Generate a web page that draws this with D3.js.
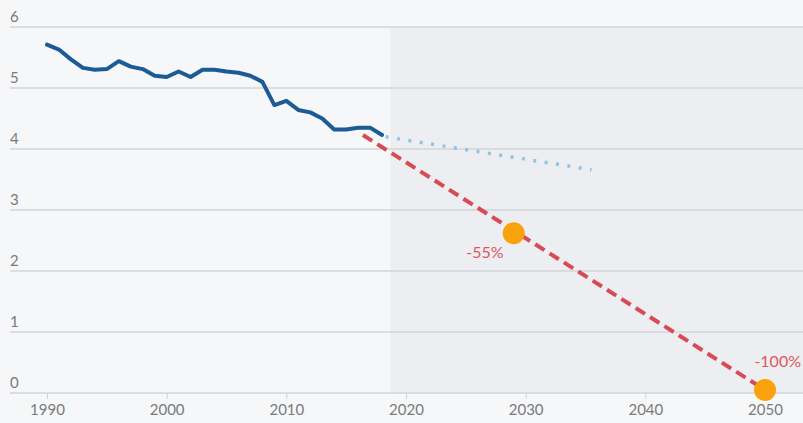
<!DOCTYPE html>
<html>
<head>
<meta charset="utf-8">
<script src="https://cdn.jsdelivr.net/npm/d3@7"></script>
<style>
  html, body { margin: 0; padding: 0; background: #f6f7f9; }
  svg { display: block; font-family: Lato, "Open Sans", sans-serif; }
</style>
</head>
<body>
<div id="chart"></div>
<script>
// 历史排放 (1990-2018)
const years = [1990, 1991, 1992, 1993, 1994, 1995, 1996, 1997, 1998, 1999,
  2000, 2001, 2002, 2003, 2004, 2005, 2006, 2007, 2008, 2009,
  2010, 2011, 2012, 2013, 2014, 2015, 2016, 2017, 2018];
const values = [5.71, 5.63, 5.47, 5.33, 5.30, 5.31, 5.44, 5.35, 5.31, 5.20,
  5.18, 5.27, 5.18, 5.30, 5.30, 5.27, 5.25, 5.20, 5.10, 4.72,
  4.79, 4.64, 4.60, 4.50, 4.32, 4.32, 4.35, 4.35, 4.23];

// 趋势延伸 (点线)
const trendYears = [2018.3, 2035.5];
const trendValues = [4.2, 3.66];

// 目标路径 (虚线)
const targetYears = [2016.4, 2050];
const targetValues = [4.23, 0.05];

// 目标点
const markerYears = [2029, 2050];
const markerValues = [2.62, 0.05];
const markerLabels = ["-55%", "-100%"];

const xTicks = [1990, 2000, 2010, 2020, 2030, 2040, 2050];
const yTicks = [0, 1, 2, 3, 4, 5, 6];
const shadeStart = 2018.7;

const width = 803, height = 423;

const svg = d3.select("#chart").append("svg")
    .attr("width", width)
    .attr("height", height);

const x = d3.scaleLinear().domain([1990, 2050]).range([47, 765]);
const y = d3.scaleLinear().domain([0, 6]).range([393, 27]);

// 预测区域背景
svg.append("rect")
    .attr("x", x(shadeStart))
    .attr("y", y(6))
    .attr("width", width - x(shadeStart))
    .attr("height", y(0) - y(6))
    .attr("fill", "#eceef1");

// 网格线 + y 标签
const yAxis = svg.append("g");
yTicks.forEach(t => {
    yAxis.append("line")
        .attr("x1", 10).attr("x2", width)
        .attr("y1", y(t)).attr("y2", y(t))
        .attr("stroke", "#d3d5d9")
        .attr("stroke-width", 1.5);
    yAxis.append("text")
        .attr("x", 10)
        .attr("y", y(t) - 5)
        .style("font-size", "15px")
        .style("fill", "#7a7a7a")
        .text(t);
});

// x 轴
const xAxis = svg.append("g")
    .attr("transform", `translate(0,${y(0)})`)
    .call(d3.axisBottom(x).tickValues(xTicks).tickFormat(d3.format("d")).tickSize(6).tickPadding(5));
xAxis.select(".domain").remove();
xAxis.selectAll(".tick line").attr("stroke", "#cfd1d5");
xAxis.selectAll(".tick text")
    .style("font-size", "15px")
    .style("fill", "#7a7a7a")
    .style("font-family", "Lato, 'Open Sans', sans-serif");

const line = d3.line().x(d => x(d[0])).y(d => y(d[1]));

// 目标虚线
svg.append("path")
    .datum(d3.zip(targetYears, targetValues))
    .attr("d", line)
    .attr("fill", "none")
    .attr("stroke", "#d94a55")
    .attr("stroke-width", 4)
    .attr("stroke-dasharray", "11,6");

// 趋势点线
svg.append("path")
    .datum(d3.zip(trendYears, trendValues))
    .attr("d", line)
    .attr("fill", "none")
    .attr("stroke", "#8fc4e6")
    .attr("stroke-width", 3.5)
    .attr("stroke-dasharray", "3,8.5");

// 历史线
svg.append("path")
    .datum(d3.zip(years, values))
    .attr("d", line)
    .attr("fill", "none")
    .attr("stroke", "#1d5b97")
    .attr("stroke-width", 4)
    .attr("stroke-linejoin", "round")
    .attr("stroke-linecap", "round");

// 目标点
svg.selectAll(".marker")
    .data(d3.zip(markerYears, markerValues))
    .enter().append("circle")
    .attr("cx", d => x(d[0]))
    .attr("cy", d => y(d[1]))
    .attr("r", 11)
    .attr("fill", "#f9a20c");

svg.append("text")
    .attr("x", x(markerYears[0]) - 10)
    .attr("y", y(markerValues[0]) + 25)
    .style("font-size", "16px")
    .style("text-anchor", "end")
    .style("fill", "#e0555c")
    .text(markerLabels[0]);

svg.append("text")
    .attr("x", width - 2)
    .attr("y", y(markerValues[1]) - 23)
    .style("font-size", "16px")
    .style("text-anchor", "end")
    .style("fill", "#e0555c")
    .text(markerLabels[1]);
</script>
</body>
</html>
